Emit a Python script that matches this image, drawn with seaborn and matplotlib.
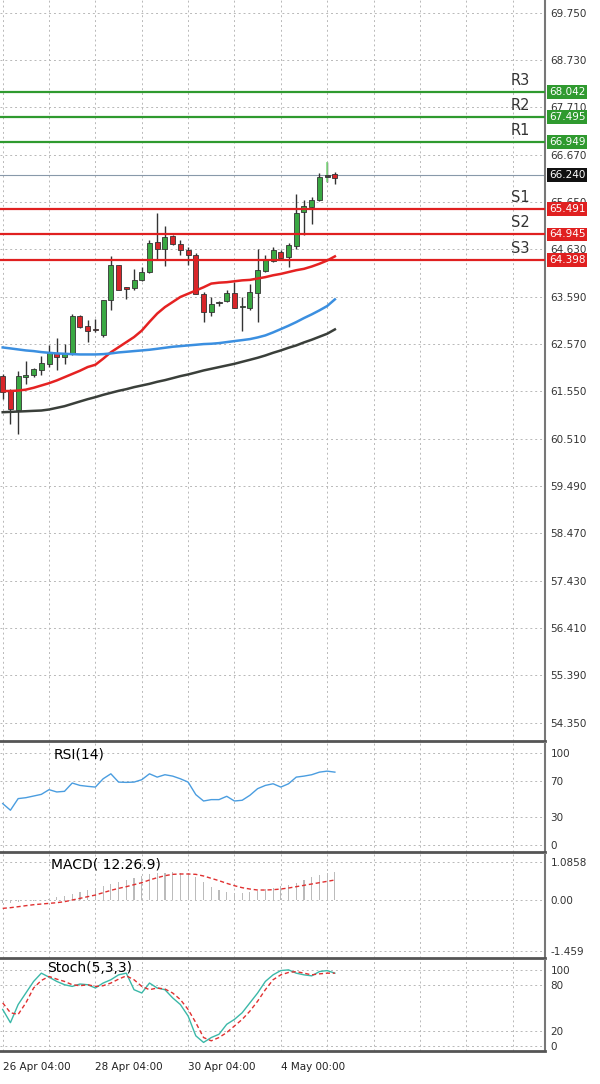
import matplotlib
matplotlib.use('Agg')
import numpy as np
import pandas as pd
import seaborn as sns
import matplotlib.pyplot as plt

# === Candles (4H) ===
opens = [61.865, 61.57, 61.14, 61.86, 61.89, 62.00, 62.14, 62.37, 62.29, 62.36, 63.18, 62.97, 62.88, 62.76,
         63.53, 64.28, 63.78, 63.79, 63.96, 64.13, 64.78, 64.64, 64.91, 64.73, 64.60, 64.51, 63.66, 63.26,
         63.45, 63.50, 63.67, 63.37, 63.36, 63.68, 64.15, 64.38, 64.57, 64.46, 64.69, 65.43, 65.53, 65.70,
         66.20, 66.25]
closes = [61.525, 61.16, 61.87, 61.88, 62.03, 62.16, 62.38, 62.29, 62.36, 63.17, 62.94, 62.86, 62.87, 63.53,
          64.28, 63.73, 63.77, 63.96, 64.13, 64.76, 64.64, 64.88, 64.73, 64.60, 64.49, 63.66, 63.26, 63.44,
          63.45, 63.67, 63.36, 63.38, 63.70, 64.17, 64.42, 64.60, 64.44, 64.71, 65.41, 65.56, 65.70, 66.19,
          66.20, 66.18]
highs = [61.92, 61.60, 61.99, 62.21, 62.06, 62.32, 62.54, 62.70, 62.57, 63.23, 63.20, 63.08, 63.12, 63.53,
         64.47, 64.28, 63.80, 64.20, 64.24, 64.82, 65.40, 65.12, 64.93, 64.82, 64.67, 64.54, 63.70, 63.59,
         63.50, 63.73, 63.91, 63.59, 63.88, 64.64, 64.49, 64.67, 64.60, 64.75, 65.83, 65.69, 65.76, 66.28,
         66.52, 66.30]
lows = [61.38, 60.84, 60.62, 61.71, 61.85, 61.89, 62.07, 62.00, 62.14, 62.34, 62.92, 62.61, 62.83, 62.72,
        63.30, 63.73, 63.55, 63.73, 63.94, 64.11, 64.42, 64.26, 64.71, 64.49, 64.28, 63.65, 63.05, 63.18,
        63.40, 63.48, 63.34, 62.86, 63.31, 63.05, 64.13, 64.35, 64.40, 64.24, 64.62, 64.93, 65.17, 65.67,
        66.09, 66.05]

ma_fast = [61.55, 61.55, 61.56, 61.58, 61.62, 61.67, 61.72, 61.78, 61.85, 61.92, 61.99, 62.07, 62.12, 62.25,
           62.39, 62.50, 62.61, 62.72, 62.86, 63.05, 63.23, 63.37, 63.48, 63.59, 63.66, 63.73, 63.80, 63.88,
           63.90, 63.91, 63.93, 63.95, 63.96, 63.99, 64.02, 64.06, 64.09, 64.13, 64.17, 64.20, 64.25, 64.31,
           64.38, 64.47]
ma_mid = [62.495, 62.474, 62.452, 62.430, 62.416, 62.394, 62.379, 62.365, 62.358, 62.350, 62.343, 62.343,
          62.343, 62.350, 62.365, 62.387, 62.401, 62.416, 62.430, 62.445, 62.466, 62.488, 62.510, 62.524,
          62.539, 62.553, 62.568, 62.575, 62.589, 62.611, 62.633, 62.654, 62.676, 62.712, 62.756, 62.821,
          62.893, 62.966, 63.045, 63.132, 63.212, 63.299, 63.393, 63.538]
ma_slow = [61.09, 61.098, 61.105, 61.112, 61.12, 61.127, 61.149, 61.185, 61.221, 61.272, 61.323, 61.373,
           61.417, 61.467, 61.511, 61.554, 61.590, 61.634, 61.670, 61.706, 61.750, 61.786, 61.829, 61.873,
           61.909, 61.952, 61.996, 62.032, 62.068, 62.104, 62.140, 62.184, 62.227, 62.271, 62.321, 62.379,
           62.430, 62.488, 62.539, 62.604, 62.662, 62.727, 62.792, 62.886]

level_names = ['R3', 'R2', 'R1', 'S1', 'S2', 'S3']
level_values = [68.042, 67.495, 66.949, 65.491, 64.945, 64.398]
current_price = 66.240
price_ticks = [69.750, 68.730, 67.710, 66.670, 65.650, 64.630, 63.590, 62.570, 61.550, 60.510,
               59.490, 58.470, 57.430, 56.410, 55.390, 54.350]

rsi = [45.0, 37.8, 50.4, 51.4, 53.2, 55.0, 60.1, 57.6, 58.3, 67.3, 64.7, 63.7, 62.9, 71.9, 77.3, 68.3,
       68.0, 68.3, 70.9, 77.3, 73.7, 76.3, 74.8, 71.9, 68.3, 54.7, 47.8, 49.3, 49.3, 52.9, 47.8, 48.6,
       54.0, 61.2, 64.7, 66.5, 62.9, 66.5, 73.7, 74.8, 76.3, 79.1, 80.2, 79.1]
macd_hist = [-0.095, -0.076, -0.057, -0.038, -0.019, 0.0, 0.038, 0.076, 0.123, 0.171, 0.228, 0.285, 0.342,
             0.399, 0.456, 0.513, 0.570, 0.627, 0.684, 0.731, 0.760, 0.779, 0.788, 0.779, 0.760, 0.665,
             0.522, 0.380, 0.285, 0.237, 0.190, 0.209, 0.237, 0.266, 0.304, 0.351, 0.399, 0.427, 0.494,
             0.570, 0.646, 0.712, 0.760, 0.807]
macd_signal = [-0.237, -0.218, -0.190, -0.161, -0.133, -0.114, -0.095, -0.076, -0.047, 0.0, 0.047, 0.095,
               0.142, 0.209, 0.275, 0.332, 0.380, 0.437, 0.494, 0.570, 0.636, 0.693, 0.731, 0.741, 0.741,
               0.731, 0.684, 0.617, 0.551, 0.475, 0.408, 0.351, 0.313, 0.285, 0.285, 0.294, 0.313, 0.342,
               0.380, 0.418, 0.456, 0.494, 0.532, 0.570]
stoch_k = [48.3, 31.0, 54.7, 69.8, 84.9, 95.7, 90.5, 84.9, 80.6, 78.4, 81.5, 80.6, 76.3, 82.8, 87.1, 93.5,
           95.7, 74.1, 69.8, 82.8, 76.3, 74.1, 63.4, 54.7, 39.7, 13.8, 5.2, 11.6, 15.9, 28.9, 35.3, 44.0,
           56.9, 69.8, 84.9, 93.5, 99.1, 100.0, 95.7, 93.5, 92.2, 97.8, 99.1, 95.7]
stoch_d = [56.9, 44.0, 41.8, 56.9, 76.3, 86.2, 91.4, 87.9, 84.9, 80.6, 79.3, 80.6, 78.4, 79.3, 82.8, 87.9,
           92.2, 87.1, 78.4, 74.1, 76.3, 75.0, 69.8, 61.2, 48.3, 31.0, 11.6, 7.3, 11.6, 18.1, 26.7, 35.3,
           46.1, 59.1, 74.1, 87.1, 93.5, 96.6, 97.8, 95.7, 93.5, 94.8, 95.7, 95.7]

date_labels = ['26 Apr 04:00', '28 Apr 04:00', '30 Apr 04:00', '4 May 00:00']
date_index = [0, 12, 24, 36]

df = pd.DataFrame({'i': np.arange(len(opens)), 'open': opens, 'close': closes, 'high': highs, 'low': lows,
                   'ma_fast': ma_fast, 'ma_mid': ma_mid, 'ma_slow': ma_slow, 'rsi': rsi,
                   'hist': macd_hist, 'sig': macd_signal, 'k': stoch_k, 'd': stoch_d})

W, H = 600, 1084
fig = plt.figure(figsize=(W / 100, H / 100), dpi=100)
fig.patch.set_facecolor('white')
PR = 545 / W
XMIN, XMAX = -0.35, 70.2


def pane(top, bottom):
    ax = fig.add_axes([0, 1 - bottom / H, PR, (bottom - top) / H])
    ax.set_xlim(XMIN, XMAX)
    ax.set_facecolor('white')
    for s in ['left', 'top']:
        ax.spines[s].set_visible(False)
    ax.spines['right'].set_color('#777777')
    ax.spines['right'].set_linewidth(1.5)
    ax.spines['bottom'].set_color('#555555')
    ax.spines['bottom'].set_linewidth(2)
    ax.set_xticks(np.arange(0, 71, 6))
    ax.tick_params(axis='x', length=0, labelbottom=False)
    ax.yaxis.tick_right()
    ax.tick_params(axis='y', length=0, labelsize=7.5, labelcolor='#333333', pad=4)
    ax.grid(True, color='#b8b8b8', linestyle=(0, (2, 3)), linewidth=0.7)
    ax.set_axisbelow(True)
    return ax


# === Main price pane ===
ax = pane(0, 741)
ax.set_ylim(53.96, 70.03)
ax.set_yticks(price_ticks)
ax.set_yticklabels([f'{v:.3f}' for v in price_ticks])

body_c = np.where(df['close'] > df['open'], '#3aa843', np.where(df['close'] < df['open'], '#d8262a', '#444444'))
ax.vlines(df['i'], df['low'], df['high'], color='#333333', linewidth=1, zorder=3)
ax.vlines(df['i'].iloc[-2], df['low'].iloc[-2], df['high'].iloc[-2], color='#88e088', linewidth=1.2, zorder=3)
bot = np.minimum(df['open'], df['close'])
hgt = np.maximum(np.abs(df['close'] - df['open']), 0.03)
ax.bar(df['i'], hgt, bottom=bot, width=0.65, color=body_c, edgecolor='#333333', linewidth=0.6, zorder=4)

sns.lineplot(data=df, x='i', y='ma_fast', ax=ax, color='#e52222', linewidth=1.8, zorder=5)
sns.lineplot(data=df, x='i', y='ma_mid', ax=ax, color='#3b8fe0', linewidth=1.8, zorder=5)
sns.lineplot(data=df, x='i', y='ma_slow', ax=ax, color='#3a3f3a', linewidth=1.8, zorder=5)
ax.set_xlabel('')
ax.set_ylabel('')

ax.axhline(current_price, color='#8899aa', linewidth=0.8, zorder=2)
for name, val in zip(level_names, level_values):
    col = '#2f9a2f' if name.startswith('R') else '#e02020'
    ax.axhline(val, color=col, linewidth=1.6, zorder=6)
    ax.text(65.8, val + 0.09, name, fontsize=10.5, color='#333333', va='bottom', ha='left')
    fig.text(549 / W, ax.transData.transform((0, val))[1] / H, f'{val:.3f}', fontsize=7.5,
             color='white', va='center', ha='left',
             bbox=dict(boxstyle='square,pad=0.18', fc=col, ec='none'))
fig.text(549 / W, ax.transData.transform((0, current_price))[1] / H, f'{current_price:.3f}',
         fontsize=7.5, color='white', va='center', ha='left',
         bbox=dict(boxstyle='square,pad=0.18', fc='#111111', ec='none'))

# === RSI ===
ax2 = pane(743, 852)
ax2.set_ylim(-7.5, 110.7)
ax2.set_yticks([100, 70, 30, 0])
ax2.set_yticklabels(['100', '70', '30', '0'])
sns.lineplot(data=df, x='i', y='rsi', ax=ax2, color='#4a9de0', linewidth=1)
ax2.text(6.6, 106, 'RSI(14)', fontsize=10, va='top')
ax2.set_xlabel('')
ax2.set_ylabel('')

# === MACD ===
ax3 = pane(854, 958)
ax3.set_ylim(-1.65, 1.31)
ax3.set_yticks([1.0858, 0.0, -1.459])
ax3.set_yticklabels(['1.0858', '0.00', '-1.459'])
ax3.bar(df['i'], df['hist'], width=0.15, color='#bbbbbb', zorder=3)
sns.lineplot(data=df, x='i', y='sig', ax=ax3, color='#e03030', linewidth=1, linestyle=(0, (3, 2)), zorder=4)
ax3.text(6.3, 1.22, 'MACD( 12.26.9)', fontsize=10, va='top')
ax3.set_xlabel('')
ax3.set_ylabel('')

# === Stochastic ===
ax4 = pane(960, 1051)
ax4.set_ylim(-6, 112.9)
ax4.set_yticks([100, 80, 20, 0])
ax4.set_yticklabels(['100', '80', '20', '0'])
sns.lineplot(data=df, x='i', y='k', ax=ax4, color='#3bb8a8', linewidth=1)
sns.lineplot(data=df, x='i', y='d', ax=ax4, color='#e03030', linewidth=1, linestyle=(0, (3, 2)))
ax4.text(5.8, 111, 'Stoch(5,3,3)', fontsize=10, va='top')
ax4.set_xlabel('')
ax4.set_ylabel('')

for idx, lab in zip(date_index, date_labels):
    xpix = ax4.transData.transform((idx, 0))[0]
    fig.text(xpix / W, 1 - 1067 / H, lab, fontsize=7.5, color='#222222', va='center', ha='left')

fig.savefig('out.png', dpi=100, facecolor='white')
